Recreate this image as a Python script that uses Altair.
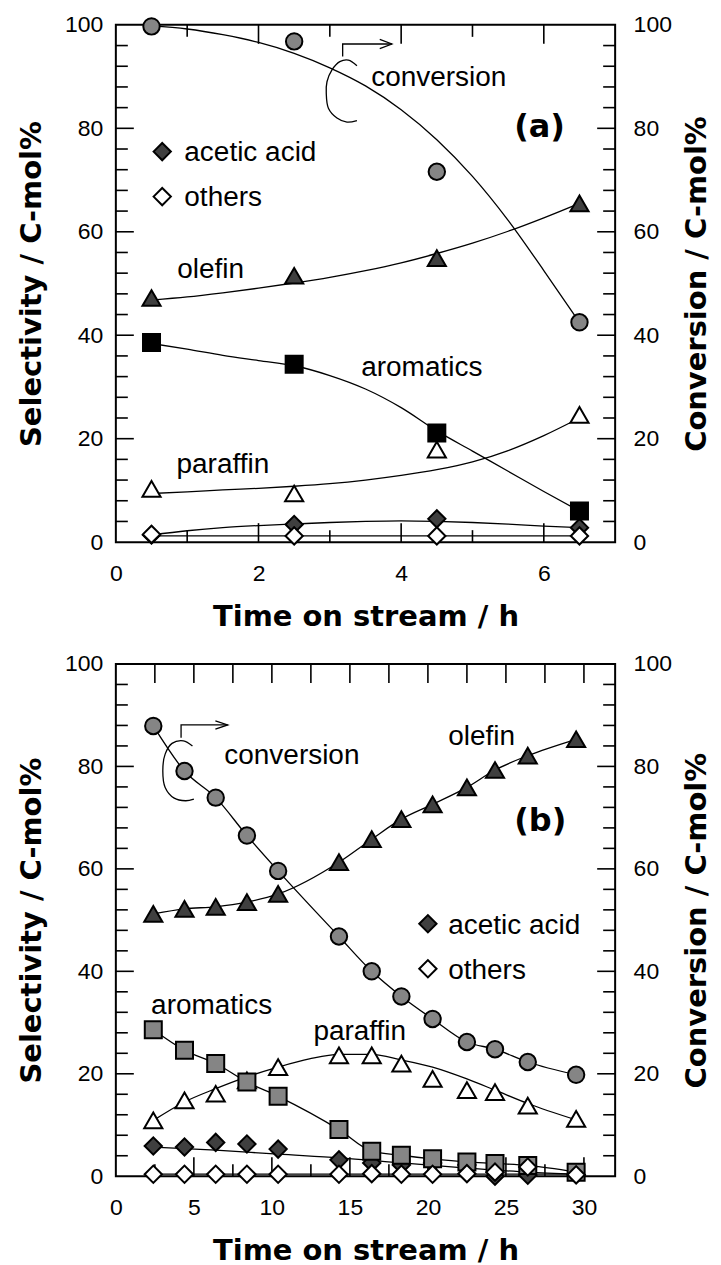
import altair as alt
import pandas as pd

# ---------------- Panel (a) : measured points ----------------
a_time = [0.5, 2.5, 4.5, 6.5]
a_conversion = [99.7, 96.8, 71.6, 42.5]
a_olefin = [47.2, 51.5, 54.9, 65.5]
a_aromatics = [38.6, 34.4, 21.1, 6.0]
a_paraffin = [10.3, 9.4, 17.9, 24.6]
a_acetic = [1.4, 3.4, 4.5, 2.8]
a_others = [1.5, 1.2, 1.2, 1.2]

# Panel (a) : fitted curves
a_fit_time = [0.5, 1.0, 1.5, 2.0, 2.5, 3.0, 3.5, 4.0, 4.5, 5.0, 5.5, 6.0, 6.5]
a_fit_conversion = [99.8, 99.2, 98.1, 96.6, 94.5, 91.7, 88.2, 83.6, 77.8, 70.7, 62.2, 52.5, 42.5]
a_fit_olefin = [46.8, 47.4, 48.2, 49.1, 50.1, 51.2, 52.5, 54.0, 55.8, 57.8, 60.1, 62.7, 65.5]
a_fit_aromatics = [38.4, 37.3, 36.1, 35.1, 34.1, 32.2, 29.6, 26.0, 21.5, 17.6, 13.7, 9.8, 6.0]
a_fit_paraffin = [9.4, 9.7, 10.1, 10.4, 10.8, 11.3, 12.0, 12.9, 14.0, 15.5, 17.7, 20.6, 24.0]
a_fit_acetic = [1.4, 2.2, 2.8, 3.2, 3.5, 3.8, 4.0, 4.1, 4.0, 3.8, 3.5, 3.1, 2.8]
a_fit_others = [1.2, 1.2, 1.2, 1.2, 1.2, 1.2, 1.2, 1.2, 1.2, 1.2, 1.2, 1.2, 1.2]

# Panel (a) : annotations
a_text = ["conversion", "acetic acid", "others", "olefin", "aromatics", "paraffin"]
a_text_x = [3.58, 0.96, 0.96, 0.86, 3.44, 0.85]
a_text_y = [88.1, 73.6, 64.9, 51.1, 32.1, 13.3]
a_tag = ["(a)"]
a_tag_x = [5.94]
a_tag_y = [80.2]
a_key_x = [0.65, 0.65]
a_key_y = [75.5, 66.8]
a_arrow_x = [3.18, 3.18, 3.87]
a_arrow_y = [93.9, 96.3, 96.3]
a_head_x = [3.70, 3.87, 3.70]
a_head_y = [97.2, 96.3, 95.4]
a_bracket_x = [3.38, 3.26, 3.14, 3.03, 2.96, 2.95, 2.98, 3.10, 3.24, 3.38]
a_bracket_y = [92.1, 93.2, 92.9, 91.3, 89.0, 86.8, 83.9, 82.0, 81.2, 81.5]

# ---------------- Panel (b) : measured points ----------------
b_time = [2.4, 4.4, 6.4, 8.4, 10.4, 14.3, 16.4, 18.3, 20.3, 22.5, 24.3, 26.4, 29.5]
b_conversion = [87.9, 79.1, 73.9, 66.5, 59.6, 46.8, 40.0, 35.1, 30.7, 26.2, 24.8, 22.3, 19.8]
b_olefin = [51.2, 52.2, 52.6, 53.5, 55.1, 61.3, 65.8, 69.7, 72.6, 75.9, 79.3, 82.1, 85.3]
b_aromatics = [28.6, 24.6, 22.0, 18.4, 15.6, 9.1, 4.9, 4.1, 3.4, 2.8, 2.5, 2.1, 0.8]
b_paraffin = [10.9, 14.8, 16.1, 18.7, 21.3, 23.6, 23.6, 22.0, 19.0, 16.8, 16.4, 13.8, 11.2]
b_acetic = [5.9, 5.7, 6.6, 6.3, 5.3, 3.2, 2.6, 2.2, 2.6, 2.2, 0.0, 0.2, 0.3]
b_others = [0.4, 0.4, 0.4, 0.4, 0.4, 0.4, 0.5, 0.4, 0.4, 0.5, 0.8, 1.8, 0.3]

# Panel (b) : fitted curves
b_fit_par_time = [2.4, 4.4, 6.4, 8.4, 10.4, 12.4, 14.3, 16.4, 18.3, 20.3, 22.5, 24.3, 26.4, 29.5]
b_fit_paraffin = [10.9, 14.5, 17.1, 19.4, 21.3, 22.9, 23.8, 23.8, 22.7, 21.3, 19.0, 16.8, 14.2, 11.0]
b_fit_ace_time = [2.4, 6.4, 10.4, 14.3, 18.3, 22.5, 26.4, 29.5]
b_fit_acetic = [5.7, 5.1, 4.3, 3.6, 2.6, 1.6, 0.8, 0.4]
b_fit_oth_time = [2.4, 29.5]
b_fit_others = [0.4, 0.4]

# Panel (b) : annotations
b_text = ["conversion", "olefin", "acetic acid", "others", "aromatics", "paraffin"]
b_text_x = [6.95, 21.3, 21.3, 21.3, 2.26, 12.66]
b_text_y = [80.4, 84.2, 47.3, 38.5, 31.6, 26.5]
b_tag = ["(b)"]
b_tag_x = [27.2]
b_tag_y = [69.4]
b_key_x = [20.0, 20.0]
b_key_y = [49.3, 40.5]
b_arrow_x = [4.18, 4.18, 7.17]
b_arrow_y = [85.6, 88.1, 88.1]
b_head_x = [6.38, 7.17, 6.38]
b_head_y = [88.9, 88.1, 87.3]
b_bracket_x = [4.91, 4.33, 3.60, 3.16, 3.01, 3.16, 3.74, 4.47, 5.00]
b_bracket_y = [84.0, 85.0, 84.5, 82.4, 79.1, 75.9, 73.8, 73.3, 73.6]

# axes / ticks
y_labels = [0, 20, 40, 60, 80, 100]
y_minor = [4, 8, 12, 16, 24, 28, 32, 36, 44, 48, 52, 56, 64, 68, 72, 76, 84, 88, 92, 96]
y_major = [20, 40, 60, 80]
a_x_labels = [0, 2, 4, 6]
a_x_major = [2, 4, 6]
a_x_minor = [1, 3, 5]
b_x_labels = [0, 5, 10, 15, 20, 25, 30]
b_x_major = [5, 10, 15, 20, 25, 30]
b_x_minor = [2.5, 7.5, 12.5, 17.5, 22.5, 27.5]

TXT = "Liberation Sans, Arial, sans-serif"
BOLD = "DejaVu Sans"
W = 500
GRAY = "#858585"
DARK = "#3f3f3f"
TICK_FS = 23
ANN_FS = 28


def X(xmax, labels):
    return alt.X("t:Q", scale=alt.Scale(domain=[0, xmax], nice=False, zero=False),
                 axis=alt.Axis(values=labels, ticks=False, tickSize=0, domain=False, grid=False,
                               labelFont=TXT, labelFontSize=TICK_FS, labelColor="black",
                               labelPadding=20, labelFlush=False, labelOverlap=False,
                               title="Time on stream / h", titleFont=BOLD, titleFontSize=29,
                               titleFontWeight="bold", titleColor="black", titlePadding=17))


def YL():
    return alt.Y("v:Q", scale=alt.Scale(domain=[0, 100], nice=False, zero=False),
                 axis=alt.Axis(orient="left", values=y_labels, ticks=False, tickSize=0, domain=False,
                               grid=False, labelFont=TXT, labelFontSize=TICK_FS, labelColor="black",
                               labelPadding=13, labelFlush=False, labelOverlap=False,
                               title="Selectivity / C-mol%", titleFont=BOLD, titleFontSize=29,
                               titleFontWeight="bold", titleColor="black", titlePadding=18))


def YR():
    return alt.Y("v:Q", scale=alt.Scale(domain=[0, 100], nice=False, zero=False),
                 axis=alt.Axis(orient="right", values=y_labels, ticks=False, tickSize=0, domain=False,
                               grid=False, labelFont=TXT, labelFontSize=TICK_FS, labelColor="black",
                               labelPadding=18, labelFlush=False, labelOverlap=False,
                               title="Conversion / C-mol%", titleFont=BOLD, titleFontSize=29,
                               titleFontWeight="bold", titleColor="black", titlePadding=11,
                               titleAngle=270, titleBaseline="top"))


def pts(t, v):
    return pd.DataFrame({"t": t, "v": v})


def series_df(t, groups):
    rows = []
    for name, vals in groups:
        for ti, vi in zip(t, vals):
            rows.append({"t": ti, "v": vi, "s": name})
    return pd.DataFrame(rows)


def poly(x, y):
    return pd.DataFrame({"t": x, "v": y, "o": list(range(len(x)))})


def panel(H, xmax, xlabels, xmajor, xminor, top_all_major, fit_lines, conv_t, conv_v, conv_fit_t,
          conv_fit_v, conv_interp, markers, texts, tag, keys, arrow, head, bracket):
    x = X(xmax, xlabels)
    MAJ, MIN = 19, 12
    layers = []
    # inward ticks
    for vals, L in [(xmajor, MAJ), (xminor, MIN)]:
        d = pd.DataFrame({"t": vals})
        layers.append(alt.Chart(d).mark_rule(color="black", strokeWidth=1.6).encode(
            x=x, y=alt.value(H), y2=alt.value(H - L)))
        Lt = MAJ if top_all_major else L
        layers.append(alt.Chart(d).mark_rule(color="black", strokeWidth=1.6).encode(
            x=x, y=alt.value(0), y2=alt.value(Lt)))
    for vals, L in [(y_major, 18), (y_minor, 12)]:
        d = pd.DataFrame({"v": vals})
        layers.append(alt.Chart(d).mark_rule(color="black", strokeWidth=1.6).encode(
            y=YL(), x=alt.value(0), x2=alt.value(L)))
        layers.append(alt.Chart(d).mark_rule(color="black", strokeWidth=1.6).encode(
            y=YL(), x=alt.value(W - L), x2=alt.value(W)))
    # fitted / connecting lines
    for df, interp in fit_lines:
        layers.append(alt.Chart(df).mark_line(color="black", strokeWidth=1.3, interpolate=interp).encode(
            x=x, y=YL(), detail="s:N"))
    # annotation arrow + bracket
    for (ax, ay), interp in [(arrow, "linear"), (head, "linear"), (bracket, "catmull-rom")]:
        layers.append(alt.Chart(poly(ax, ay)).mark_line(color="black", strokeWidth=1.3, interpolate=interp).encode(
            x=x, y=YL(), order="o:Q"))
    # texts
    tl, tx, ty = texts
    layers.append(alt.Chart(pd.DataFrame({"t": tx, "v": ty, "label": tl})).mark_text(
        font=TXT, fontSize=ANN_FS, align="left", baseline="alphabetic", color="black").encode(
        x=x, y=YL(), text="label:N"))
    gl, gx, gy = tag
    layers.append(alt.Chart(pd.DataFrame({"t": gx, "v": gy, "label": gl})).mark_text(
        font=BOLD, fontSize=32, fontWeight="bold", align="center", baseline="middle", color="black").encode(
        x=x, y=YL(), text="label:N"))
    # legend keys
    kx, ky = keys
    layers.append(alt.Chart(pts(kx[:1], ky[:1])).mark_point(
        shape="diamond", filled=True, fill=DARK, stroke="black", strokeWidth=2, size=300, opacity=1).encode(x=x, y=YL()))
    layers.append(alt.Chart(pts(kx[1:], ky[1:])).mark_point(
        shape="diamond", filled=True, fill="white", stroke="black", strokeWidth=2, size=300, opacity=1).encode(x=x, y=YL()))
    # markers
    for df, shape, fill, size in markers:
        layers.append(alt.Chart(df).mark_point(
            shape=shape, filled=True, fill=fill, stroke="black", strokeWidth=2, size=size, opacity=1).encode(
            x=x, y=YL()))
    left = alt.layer(*layers)
    right = alt.layer(
        alt.Chart(pts(conv_fit_t, conv_fit_v)).mark_line(color="black", strokeWidth=1.3, interpolate=conv_interp).encode(
            x=x, y=YR()),
        alt.Chart(pts(conv_t, conv_v)).mark_point(
            shape="circle", filled=True, fill=GRAY, stroke="black", strokeWidth=2, size=270, opacity=1).encode(
            x=x, y=YR()),
    )
    return alt.layer(left, right).resolve_scale(y="independent").properties(width=W, height=H)


a_fits = [
    (series_df(a_fit_time, [("olefin", a_fit_olefin), ("aromatics", a_fit_aromatics),
                            ("paraffin", a_fit_paraffin), ("acetic", a_fit_acetic),
                            ("others", a_fit_others)]), "monotone"),
]
a_markers = [
    (pts(a_time, a_paraffin), "triangle-up", "white", 330),
    (pts(a_time, a_olefin), "triangle-up", DARK, 330),
    (pts(a_time, a_acetic), "diamond", DARK, 300),
    (pts(a_time, a_aromatics), "square", "black", 290),
    (pts(a_time, a_others), "diamond", "white", 300),
]
panel_a = panel(518, 7, a_x_labels, a_x_major, a_x_minor, False, a_fits,
                a_time, a_conversion, a_fit_time, a_fit_conversion, "monotone", a_markers,
                (a_text, a_text_x, a_text_y), (a_tag, a_tag_x, a_tag_y), (a_key_x, a_key_y),
                (a_arrow_x, a_arrow_y), (a_head_x, a_head_y), (a_bracket_x, a_bracket_y))

b_fits = [
    (series_df(b_time, [("olefin", b_olefin), ("aromatics", b_aromatics)]), "monotone"),
    (series_df(b_fit_par_time, [("paraffin", b_fit_paraffin)]), "monotone"),
    (series_df(b_fit_ace_time, [("acetic", b_fit_acetic)]), "monotone"),
    (series_df(b_fit_oth_time, [("others", b_fit_others)]), "linear"),
]
b_markers = [
    (pts(b_time, b_paraffin), "triangle-up", "white", 330),
    (pts(b_time, b_olefin), "triangle-up", DARK, 330),
    (pts(b_time, b_acetic), "diamond", DARK, 300),
    (pts(b_time, b_aromatics), "square", GRAY, 290),
    (pts(b_time, b_others), "diamond", "white", 300),
]
panel_b = panel(513, 32, b_x_labels, b_x_major, b_x_minor, True, b_fits,
                b_time, b_conversion, b_time, b_conversion, "monotone", b_markers,
                (b_text, b_text_x, b_text_y), (b_tag, b_tag_x, b_tag_y), (b_key_x, b_key_y),
                (b_arrow_x, b_arrow_y), (b_head_x, b_head_y), (b_bracket_x, b_bracket_y))

chart = alt.vconcat(panel_a, panel_b, spacing=20).properties(
    padding={"left": 8, "top": 4, "right": 0, "bottom": 0},
    background="white",
).configure_view(stroke="black", strokeWidth=2)

chart.save("out.html", embed_options={"renderer": "svg", "actions": False})
